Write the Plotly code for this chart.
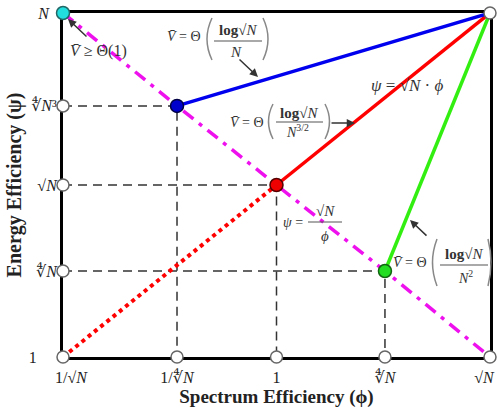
import plotly.graph_objects as go

NB = "\u00a0"
# Tick positions (log-scale exponents) and labels
phi_pos = [-0.5, -0.233, 0.0, 0.254, 0.5]
phi_labels = [NB * 4 + "1/√<i>N</i>", "1/∜<i>N</i>", "1", "∜<i>N</i>", "√<i>N</i>" + NB * 3]
psi_pos = [0.0, 0.25, 0.5, 0.73, 1.0]
psi_labels = ["1" + NB * 5, "∜<i>N</i>", "√<i>N</i>", "∜<i>N</i>³", "<i>N</i>" + NB * 2]

# Operating points (index into phi_pos / psi_pos)
blue_pt = (1, 3)
red_pt = (2, 2)
green_pt = (3, 1)
cyan_pt = (0, 4)
end_pt = (4, 4)

SERIF = "Liberation Serif, DejaVu Serif, serif"
TXT = "#333333"
L, R, T, B = 63, 8, 13, 51
W, H = 498, 408
PW, PH = W - L - R, H - T - B


def px(x, y):
    return (x - L) / PW, (H - B - y) / PH


def P(i, j):
    return phi_pos[i], psi_pos[j]


fig = go.Figure()

# dashed guide lines
for (i, j) in [blue_pt, red_pt, green_pt]:
    x, y = P(i, j)
    fig.add_trace(go.Scatter(x=[phi_pos[0], x, x], y=[y, y, psi_pos[0]], mode="lines",
                             line=dict(color="#333333", width=1.5, dash="9px,6px"),
                             hoverinfo="skip", showlegend=False, cliponaxis=False))

# psi = sqrt(N)/phi (magenta dash-dot) through the operating points
mag = [cyan_pt, blue_pt, red_pt, green_pt, (4, 0)]
fig.add_trace(go.Scatter(x=[phi_pos[i] for i, j in mag], y=[psi_pos[j] for i, j in mag],
                         mode="lines", line=dict(color="#EE11EE", width=3.5, dash="13px,7px,4px,7px"),
                         hoverinfo="skip", showlegend=False, cliponaxis=False))

# psi = sqrt(N) * phi : dotted lower part, solid upper part
fig.add_trace(go.Scatter(x=[phi_pos[0], P(*red_pt)[0]], y=[psi_pos[0], P(*red_pt)[1]], mode="lines",
                         line=dict(color="#FF0000", width=4, dash="dot"),
                         hoverinfo="skip", showlegend=False, cliponaxis=False))
for pt, col in [(red_pt, "#FF0000"), (blue_pt, "#0000EE"), (green_pt, "#33EE11")]:
    fig.add_trace(go.Scatter(x=[P(*pt)[0], P(*end_pt)[0]], y=[P(*pt)[1], P(*end_pt)[1]], mode="lines",
                             line=dict(color=col, width=3.5),
                             hoverinfo="skip", showlegend=False, cliponaxis=False))

# hollow circles on the axes
hx = phi_pos + [phi_pos[0]] * 3 + [phi_pos[4]]
hy = [psi_pos[0]] * 5 + psi_pos[1:4] + [psi_pos[4]]
fig.add_trace(go.Scatter(x=hx, y=hy, mode="markers",
                         marker=dict(size=12, color="white", line=dict(color="#666666", width=1.5)),
                         hoverinfo="skip", showlegend=False, cliponaxis=False))

# filled operating points
for pt, fill, edge in [(cyan_pt, "#22DDDD", "#226666"), (blue_pt, "#0000CC", "#000044"),
                       (red_pt, "#EE0000", "#550000"), (green_pt, "#22DD22", "#116611")]:
    x, y = P(*pt)
    fig.add_trace(go.Scatter(x=[x], y=[y], mode="markers",
                             marker=dict(size=13, color=fill, line=dict(color=edge, width=1.5)),
                             hoverinfo="skip", showlegend=False, cliponaxis=False))


def ann(text, x, y, size=14, **kw):
    ux, uy = px(x, y)
    fig.add_annotation(x=ux, y=uy, xref="paper", yref="paper", text=text, showarrow=False,
                       xanchor="center", yanchor="middle",
                       font=dict(family=SERIF, size=size, color=TXT), **kw)


def arrow(hx_, hy_, tx, ty):
    ux, uy = px(hx_, hy_)
    fig.add_annotation(x=ux, y=uy, xref="paper", yref="paper", text="", showarrow=True,
                       ax=tx - hx_, ay=ty - hy_, arrowhead=2, arrowsize=1.1, arrowwidth=1.5,
                       arrowcolor="#333333")


def paren(x0, y0, y1, bulge):
    a = px(x0, y0)
    b = px(x0 - bulge, (y0 + y1) / 2)
    c = px(x0, y1)
    fig.add_shape(type="path", xref="paper", yref="paper",
                  path=f"M {a[0]},{a[1]} Q {b[0]},{b[1]} {c[0]},{c[1]}",
                  line=dict(color="#888888", width=1.5))


def bar(x0, x1, y):
    a = px(x0, y)
    b = px(x1, y)
    fig.add_shape(type="line", xref="paper", yref="paper", x0=a[0], y0=a[1], x1=b[0], y1=b[1],
                  line=dict(color="#555555", width=1.2))


VB = "<i>V̄</i>"
LOG = "<b>log</b>√<i>N</i>"
# V >= Theta(1)
ann(VB + " ≥ Θ(1)", 98, 51, 16)
arrow(68, 19, 88, 38)

# blue label
ann(VB + " = Θ", 184, 36)
paren(212, 18, 60, 10)
ann(LOG, 238, 30, 15)
bar(214, 262, 41)
ann("<i>N</i>", 236, 52, 15)
paren(263, 18, 60, -10)
arrow(258, 77, 238, 58)

# red label
ann(VB + " = Θ", 247, 122)
paren(273, 104, 139, 9)
ann(LOG, 299, 113, 15)
bar(276, 323, 122)
ann("<i>N</i><sup>3/2</sup>", 297, 131, 14)
paren(325, 104, 139, -9)
arrow(355, 123, 330, 123)

# psi = sqrt(N) phi
ann("<i>ψ</i> = √<i>N</i> · <i>ϕ</i>", 407, 85, 17)

# psi = sqrt(N)/phi
ann("<i>ψ</i> =", 293, 222, 14)
ann("√<i>N</i>", 325, 211, 15)
bar(308, 342, 222)
ann("<i>ϕ</i>", 325, 236, 15)

# green label
ann(VB + " = Θ", 410, 262)
paren(437, 239, 286, 9)
ann(LOG, 464, 254, 15)
bar(440, 488, 265)
ann("<i>N</i><sup>2</sup>", 465, 277, 14)
paren(488, 239, 286, -6)
arrow(410, 220, 428, 237)

axis_common = dict(showgrid=False, zeroline=False, showline=True, mirror=True,
                   linecolor="black", linewidth=3, ticks="", layer="below traces",
                   automargin=False, ticklabeloverflow="allow",
                   tickfont=dict(family=SERIF, size=16, color="#222222"))

fig.update_layout(
    width=W, height=H, margin=dict(l=L, r=R, t=T, b=B, autoexpand=False),
    plot_bgcolor="white", paper_bgcolor="white", showlegend=False,
    xaxis=dict(range=[-0.5, 0.5], tickvals=phi_pos, ticktext=phi_labels,
               ticklabelstandoff=4,
               title=dict(text="<b>Spectrum Efficiency (ϕ)</b>", standoff=4,
                          font=dict(family=SERIF, size=19, color="#222222")),
               **axis_common),
    yaxis=dict(range=[0, 1], tickvals=psi_pos, ticktext=psi_labels,
               ticklabelstandoff=0,
               title=dict(text="<b>Energy Efficiency (ψ)</b>", standoff=2,
                          font=dict(family=SERIF, size=20, color="#222222")),
               **axis_common),
)

fig.write_html("out.html", config={"displayModeBar": False},
               post_script="document.body.style.margin='0';document.body.style.padding='0';")
